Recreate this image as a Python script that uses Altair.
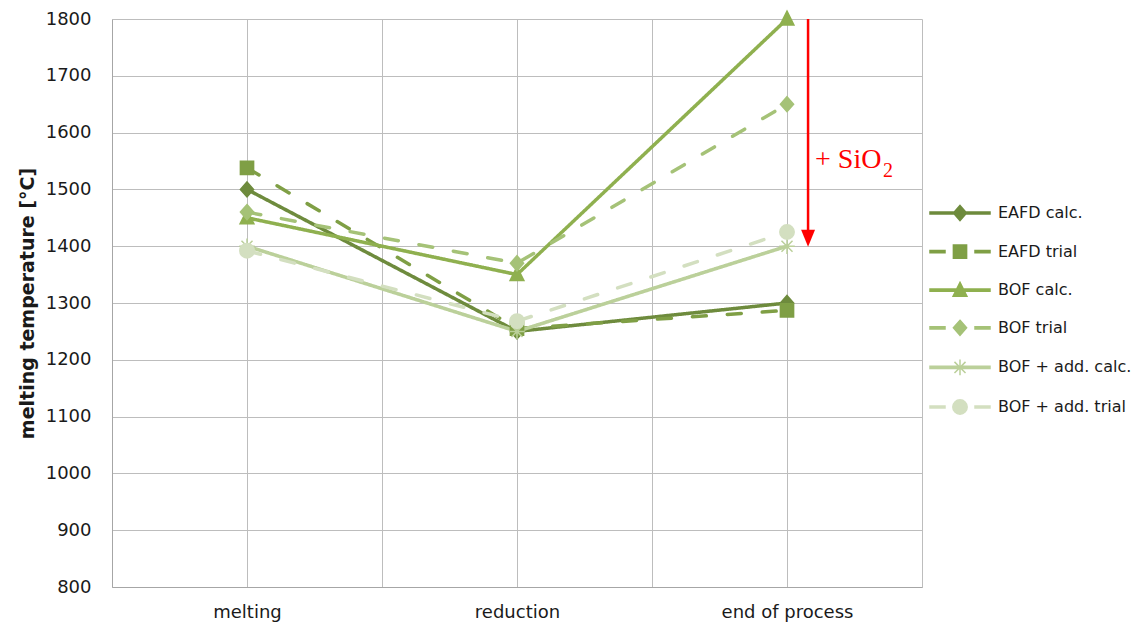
import altair as alt
import pandas as pd

# ---------------- data ----------------
stages = ["melting", "reduction", "end of process"]
series = ["EAFD calc.", "EAFD trial", "BOF calc.", "BOF trial",
          "BOF + add. calc.", "BOF + add. trial"]

eafd_calc = [1500, 1250, 1300]
eafd_trial = [1538, 1255, 1287]
bof_calc = [1450, 1350, 1800]
bof_trial = [1460, 1370, 1650]
bof_add_calc = [1400, 1250, 1400]
bof_add_trial = [1392, 1268, 1425]
values = [eafd_calc, eafd_trial, bof_calc, bof_trial, bof_add_calc, bof_add_trial]

y_ticks = [800, 900, 1000, 1100, 1200, 1300, 1400, 1500, 1600, 1700, 1800]

# annotation ("+ SiO2" arrow at end of process)
arrow_x = [2.078]
arrow_from = [1800]
arrow_to = [1425]
arrow_head = [1414]
note_text = ["+ SiO"]
note_x = [2.104]
note_y = [1538]
sub_text = ["2"]
sub_x = [2.356]
sub_y = [1521]

# ---------------- styles ----------------
colors = ["#6E8B3D", "#7F9F45", "#8FB04F", "#A5C277", "#BBD09A", "#D3DFC0"]
dashes = [[1, 0], [14, 21], [1, 0], [14, 21], [1, 0], [14, 21]]

diamond = "M0,-1.25L1.1,0L0,1.25L-1.1,0Z"
square = "M-1.1,-1.1L1.1,-1.1L1.1,1.1L-1.1,1.1Z"
triangle = "M0,-1.3L1.15,1L-1.15,1Z"
asterisk = "M-1.3,0L1.3,0M0,-1.3L0,1.3M-0.92,-0.92L0.92,0.92M-0.92,0.92L0.92,-0.92"
circle = "M-1.2,0A1.2,1.2 0 1,0 1.2,0A1.2,1.2 0 1,0 -1.2,0Z"
markers = [diamond, square, triangle, diamond, asterisk, circle]

solid_line = "M-5,-0.18L5,-0.18L5,0.18L-5,0.18Z"
dash_line = "M-5,-0.18L-2.5,-0.18L-2.5,0.18L-5,0.18ZM2.5,-0.18L5,-0.18L5,0.18L2.5,0.18Z"
legend_paths = []
for i, m in enumerate(markers):
    base = solid_line if dashes[i][1] == 0 else dash_line
    legend_paths.append(base + m)

rows = []
for i, s in enumerate(series):
    for j, st in enumerate(stages):
        rows.append({"series": s, "key": s, "stage": st, "x": j,
                     "temp": values[i][j]})
df = pd.DataFrame(rows)

# ---------------- scales / axes ----------------
font = "DejaVu Sans"
grid_color = "#BDBDBD"
text_color = "#1A1A1A"

label_expr = " : ".join(
    [f"datum.value == {j} ? '{st}'" for j, st in enumerate(stages)]) + " : ''"

x_enc = alt.X(
    "x:Q",
    scale=alt.Scale(domain=[-0.5, 2.5], nice=False, zero=False),
    axis=alt.Axis(
        title=None, values=[-0.5, 0, 0.5, 1, 1.5, 2, 2.5], labelExpr=label_expr,
        ticks=False, grid=True, gridColor=grid_color, gridWidth=1,
        domainColor="#A6A6A6", labelFont=font, labelFontSize=18,
        labelColor=text_color, labelPadding=16, labelFlush=False,
        labelOverlap=False, labelBaseline="top"),
)
y_enc = alt.Y(
    "temp:Q",
    scale=alt.Scale(domain=[800, 1800], nice=False, zero=False),
    axis=alt.Axis(
        title="melting temperature [°C]", values=y_ticks, format="d",
        ticks=False, grid=True, gridColor=grid_color, gridWidth=1,
        domainColor="#A6A6A6", labelFont=font, labelFontSize=18,
        labelColor=text_color, labelPadding=21, titleFont=font,
        titleFontSize=19, titleFontWeight="bold", titleColor=text_color,
        titlePadding=8),
)

color_scale = alt.Scale(domain=series, range=colors)

legend = alt.Legend(
    title=None, orient="none", legendX=840, legendY=186, padding=0,
    symbolSize=144, symbolStrokeWidth=1.5, symbolOpacity=1,
    labelFont=font, labelFontSize=16,
    labelColor=text_color, labelOffset=30, rowPadding=17.6,
)

lines = alt.Chart(df).mark_line(
    strokeWidth=3.5, strokeCap="round", strokeJoin="round"
).encode(
    x=x_enc, y=y_enc,
    color=alt.Color("series:N", scale=color_scale, legend=None),
    strokeDash=alt.StrokeDash("series:N",
                              scale=alt.Scale(domain=series, range=dashes),
                              legend=None),
)

points = alt.Chart(df).mark_point(
    filled=True, opacity=1, strokeWidth=1.5, size=144
).encode(
    x="x:Q", y="temp:Q",
    color=alt.Color("series:N", scale=color_scale, legend=None),
    stroke=alt.Stroke("series:N", scale=alt.Scale(domain=series, range=colors),
                      legend=None),
    shape=alt.Shape("series:N", scale=alt.Scale(domain=series, range=markers),
                    legend=None),
)

# invisible layer that only carries the legend (line + marker symbols)
legend_layer = alt.Chart(df).mark_point(
    filled=True, opacity=0, size=144
).encode(
    x="x:Q", y="temp:Q",
    color=alt.Color("key:N", scale=alt.Scale(domain=series, range=colors),
                    legend=legend),
    stroke=alt.Stroke("key:N", scale=alt.Scale(domain=series, range=colors),
                      legend=legend),
    shape=alt.Shape("key:N", scale=alt.Scale(domain=series, range=legend_paths),
                    legend=legend),
)

arrow_df = pd.DataFrame({"x": arrow_x, "y": arrow_from, "y2": arrow_to,
                         "head": arrow_head})
arrow = alt.Chart(arrow_df).mark_rule(color="#FF0000", strokeWidth=2.5).encode(
    x="x:Q", y="y:Q", y2="y2:Q")
head = alt.Chart(arrow_df).mark_point(
    shape="M-0.82,-1L0.82,-1L0,1Z", filled=True, color="#FF0000", opacity=1,
    size=289).encode(x="x:Q", y="head:Q")

note = alt.Chart(pd.DataFrame({"x": note_x, "y": note_y, "t": note_text})).mark_text(
    align="left", baseline="alphabetic", font="Liberation Serif", fontSize=28,
    color="#FF0000").encode(x="x:Q", y="y:Q", text="t:N")
sub = alt.Chart(pd.DataFrame({"x": sub_x, "y": sub_y, "t": sub_text})).mark_text(
    align="left", baseline="alphabetic", font="Liberation Serif", fontSize=20,
    color="#FF0000").encode(x="x:Q", y="y:Q", text="t:N")

chart = alt.layer(lines, points, legend_layer, arrow, head, note, sub).resolve_scale(
    color="independent", stroke="independent", shape="independent"
).properties(
    width=810, height=568,
    autosize=alt.AutoSizeParams(type="none"),
    padding={"left": 104, "top": 11, "right": 210, "bottom": 37},
    background="white",
).configure_view(stroke=None)

chart.save("out.html", embed_options={"renderer": "svg", "actions": False})
